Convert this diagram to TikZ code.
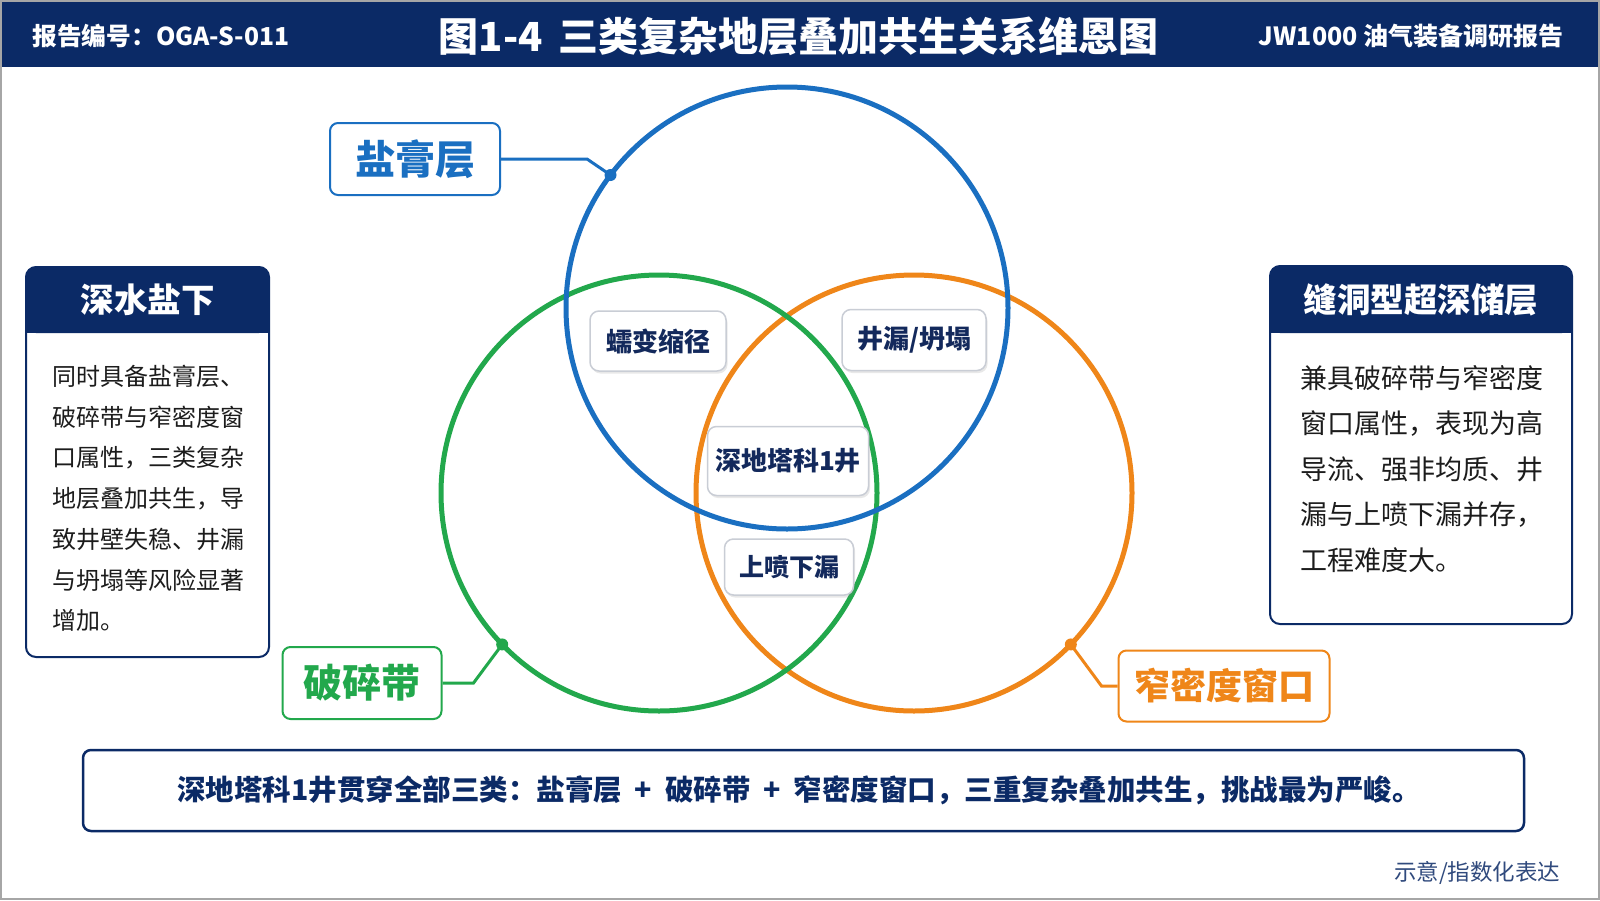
\documentclass[tikz,border=0pt]{standalone}
\usepackage{fontspec}
\setmainfont{Noto Sans CJK SC}
\usetikzlibrary{shadows,positioning}
\definecolor{navy}{HTML}{0B2A66}
\definecolor{saltblue}{HTML}{1A6FC1}
\definecolor{fracgreen}{HTML}{22A84C}
\definecolor{winorange}{HTML}{EF8619}
\definecolor{tagline}{HTML}{C9CDD5}
\definecolor{tagtext}{HTML}{13295C}
\definecolor{bodyink}{HTML}{1C1C1C}
\tikzset{
  ring/.style={
    shape = circle,
    draw = #1,
    line width = 5pt,
    inner sep = 0pt,
    outer sep = 0pt
  },
  setlabel/.style={
    draw = #1,
    text = #1,
    fill = white,
    line width = 2pt,
    rounded corners = 8pt
  },
  lead/.style={
    draw = #1,
    line width = 3pt
  },
  overlap/.style={
    draw = tagline,
    fill = white,
    line width = 1.5pt,
    rounded corners = 9pt,
    text = tagtext,
    font = \bfseries\fontsize{26}{30}\selectfont,
    drop shadow = {opacity=0.18, shadow xshift=1.5pt, shadow yshift=-2.5pt}
  },
}
\tikzset{
  paneltitle/.style={
    text = white,
    font = \bfseries\fontsize{33.5}{36}\selectfont
  },
  panelline/.style={
    anchor = west,
    inner sep = 0pt,
    text = bodyink
  },
}

\begin{document}
\begin{tikzpicture}[x=1pt,y=-1pt]
  \useasboundingbox (0,0) rectangle (1600,900);
  \fill[white] (0,0) rectangle (1600,900);
  \fill[navy] (0,0) rectangle (1600,67);
  \node[text=white, font=\bfseries\fontsize{40}{44}\selectfont] (title) at (799,36) {图1-4\hspace{0.4em}三类复杂地层叠加共生关系维恩图};
  \node[anchor=west, text=white, font=\bfseries\fontsize{24.7}{28}\selectfont] (docno) at (29,36) {报告编号：OGA-S-011};
  \node[anchor=east, text=white, font=\bfseries\fontsize{25}{28}\selectfont] (report) at (1567,36) {JW1000 油气装备调研报告};

  \node[ring=winorange, minimum size=436pt] (window) at (914,493) {};
  \node[ring=fracgreen, minimum size=436pt] (fracture) at (659,493) {};
  \node[ring=saltblue, minimum size=442pt] (salt) at (787,308) {};

  \node[setlabel=saltblue, minimum width=170pt, minimum height=72pt, font=\bfseries\fontsize{40}{44}\selectfont] (saltlbl) at (415,159) {盐膏层};
  \node[setlabel=fracgreen, minimum width=159pt, minimum height=72pt, font=\bfseries\fontsize{39}{44}\selectfont] (fraclbl) at (362,683) {破碎带};
  \node[setlabel=winorange, minimum width=211pt, minimum height=71pt, font=\bfseries\fontsize{36}{40}\selectfont] (winlbl) at (1224,686) {窄密度窗口};

  \draw[lead=saltblue] (saltlbl.east) -- ++(86,0) -- (salt.143.7);
  \fill[saltblue] (salt.143.7) circle[radius=6pt];
  \draw[lead=fracgreen] (fraclbl.east) -- ++(31,0) -- (fracture.224);
  \fill[fracgreen] (fracture.224) circle[radius=6pt];
  \draw[lead=winorange] (winlbl.west) -- ++(-16,0) -- (window.316.7);
  \fill[winorange] (window.316.7) circle[radius=6pt];

  \node[overlap, minimum width=136pt, minimum height=60pt] (creep) at (658,341) {蠕变缩径};
  \node[overlap, minimum width=144pt, minimum height=61pt] (loss) at (914,340) {井漏/坍塌};
  \node[overlap, minimum width=161pt, minimum height=69pt] (well) at (788,461) {深地塔科1井};
  \node[overlap, minimum width=129pt, minimum height=56pt, font=\bfseries\fontsize{25}{30}\selectfont] (kick) at (789,567) {上喷下漏};

  \fill[white, rounded corners=10pt] (26,267) rectangle (269,657);
  \fill[navy, rounded corners=10pt] (26,267) rectangle (269,333);
  \fill[navy] (26,318) rectangle (269,333);
  \draw[navy, line width=2pt, rounded corners=10pt] (26,267) rectangle (269,657);
  \node[paneltitle] (lefttitle) at (147.5,300) {深水盐下};
  \foreach \txt [count=\i] in {同时具备盐膏层、,破碎带与窄密度窗,口属性，三类复杂,地层叠加共生，导,致井壁失稳、井漏,与坍塌等风险显著,增加。}{
    \node[panelline, font=\fontsize{24}{28}\selectfont] (left\i) at (52,376+40.8*\i-40.8) {\txt};
  }

  \fill[white, rounded corners=10pt] (1270,266) rectangle (1572,624);
  \fill[navy, rounded corners=10pt] (1270,266) rectangle (1572,333);
  \fill[navy] (1270,318) rectangle (1572,333);
  \draw[navy, line width=2pt, rounded corners=10pt] (1270,266) rectangle (1572,624);
  \node[paneltitle] (righttitle) at (1421,300) {缝洞型超深储层};
  \foreach \txt [count=\i] in {兼具破碎带与窄密度,窗口属性，表现为高,导流、强非均质、井,漏与上喷下漏并存，,工程难度大。}{
    \node[panelline, font=\fontsize{27}{30}\selectfont] (right\i) at (1300,378+45.6*\i-45.6) {\txt};
  }

  \node[draw=navy, line width=2.5pt, rounded corners=8pt, fill=white, minimum width=1441pt, minimum height=81pt, text=navy, font=\bfseries\fontsize{28.5}{32}\selectfont] (summary) at (803.5,790.5) {\hspace{-9pt}深地塔科1井贯穿全部三类：盐膏层\hspace{0.45em}+\hspace{0.45em}破碎带\hspace{0.45em}+\hspace{0.45em}窄密度窗口，三重复杂叠加共生，挑战最为严峻。};
  \node[anchor=east, text=navy!85, font=\fontsize{22.5}{26}\selectfont] (note) at (1564,873) {示意/指数化表达};

  \draw[gray!70, line width=2pt] (1,1) rectangle (1599,899);
\end{tikzpicture}
\end{document}
